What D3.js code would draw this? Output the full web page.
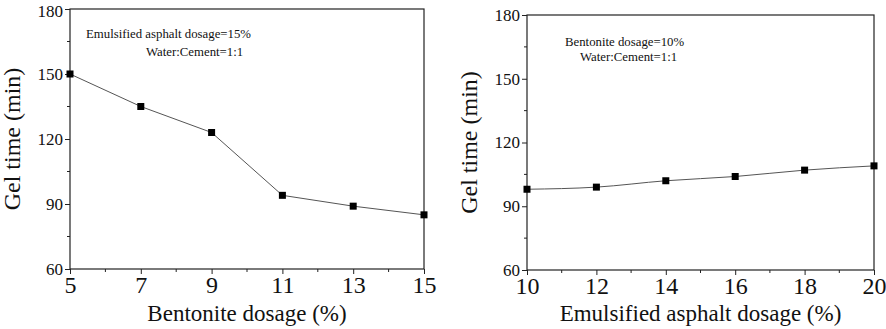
<!DOCTYPE html>
<html>
<head>
<meta charset="utf-8">
<script src="https://cdn.jsdelivr.net/npm/d3@7"></script>
<style>
  body { margin: 0; background: #fff; }
</style>
</head>
<body>
<svg id="main-vis"></svg>
<script>
// data
const bentoniteDosage = [5, 7, 9, 11, 13, 15];
const gelTimeBentonite = [150, 135, 123, 94, 89, 85];
const asphaltDosage = [10, 12, 14, 16, 18, 20];
const gelTimeAsphalt = [98, 99, 102, 104, 107, 109];
const yTicks = [60, 90, 120, 150, 180];
const notesLeft = ["Emulsified asphalt dosage=15%", "Water:Cement=1:1"];
const notesRight = ["Bentonite dosage=10%", "Water:Cement=1:1"];

const FONT = "'Liberation Serif', 'Times New Roman', serif";
const width = 886, height = 329;
const svg = d3.select("#main-vis").attr("width", width).attr("height", height);

const panels = [
  { x: bentoniteDosage, y: gelTimeBentonite, xTitle: "Bentonite dosage (%)",
    left: 70, right: 424, top: 9, bottom: 269, titleX: 20, notes: notesLeft,
    noteX: [86, 146], noteY: [38, 56], curve: d3.curveLinear },
  { x: asphaltDosage, y: gelTimeAsphalt, xTitle: "Emulsified asphalt dosage (%)",
    left: 527, right: 874, top: 15, bottom: 270, titleX: 477, notes: notesRight,
    noteX: [565, 580], noteY: [46, 61], curve: d3.curveMonotoneX }
];

panels.forEach(p => {
  const x = d3.scaleLinear().domain(d3.extent(p.x)).range([p.left, p.right]);
  const y = d3.scaleLinear().domain([60, 180]).range([p.bottom, p.top]);
  const g = svg.append("g");

  // frame
  g.append("rect")
    .attr("x", p.left).attr("y", p.top)
    .attr("width", p.right - p.left).attr("height", p.bottom - p.top)
    .attr("fill", "none").attr("stroke", "#222").attr("stroke-width", 1.2);

  // minor ticks
  const step = p.x[1] - p.x[0];
  const xMinor = d3.range(p.x[0] + step / 2, p.x[p.x.length - 1], step);
  const yMinor = d3.range(75, 180, 30);
  g.selectAll(".xminor").data(xMinor).enter().append("line")
    .attr("x1", d => x(d)).attr("x2", d => x(d))
    .attr("y1", p.bottom).attr("y2", p.bottom + 3)
    .attr("stroke", "#222");
  g.selectAll(".yminor").data(yMinor).enter().append("line")
    .attr("y1", d => y(d)).attr("y2", d => y(d))
    .attr("x1", p.left).attr("x2", p.left - 3)
    .attr("stroke", "#222");

  const xAxis = g.append("g")
    .attr("transform", `translate(0,${p.bottom})`)
    .call(d3.axisBottom(x).tickValues(p.x).tickSize(5).tickPadding(2).tickFormat(d3.format("d")));
  xAxis.select(".domain").remove();
  xAxis.selectAll("line").attr("stroke", "#222");
  xAxis.selectAll("text").attr("font-size", 24).style("font-family", FONT).style("fill", "#111");

  const yAxis = g.append("g")
    .attr("transform", `translate(${p.left},0)`)
    .call(d3.axisLeft(y).tickValues(yTicks).tickSize(5).tickPadding(2));
  yAxis.select(".domain").remove();
  yAxis.selectAll("line").attr("stroke", "#222");
  yAxis.selectAll("text").attr("font-size", 17).style("font-family", FONT).style("fill", "#111")
    .attr("dy", d => d === 180 && p.top < 12 ? "0.42em" : "0.32em");

  // axis titles
  g.append("text")
    .attr("x", (p.left + p.right) / 2).attr("y", 321)
    .attr("text-anchor", "middle").attr("font-size", 23)
    .style("font-family", FONT).style("fill", "#111")
    .text(p.xTitle);
  g.append("text")
    .attr("transform", `translate(${p.titleX},${(p.top + p.bottom) / 2}) rotate(-90)`)
    .attr("text-anchor", "middle").attr("font-size", 24)
    .style("font-family", FONT).style("fill", "#111")
    .text("Gel time (min)");

  // notes
  p.notes.forEach((t, i) => {
    g.append("text")
      .attr("x", p.noteX[i]).attr("y", p.noteY[i])
      .attr("font-size", 12.8)
      .style("font-family", FONT).style("fill", "#111")
      .text(t);
  });

  const pts = p.x.map((d, i) => [d, p.y[i]]);
  const line = d3.line().x(d => x(d[0])).y(d => y(d[1])).curve(p.curve);
  g.append("path")
    .datum(pts)
    .attr("d", line)
    .attr("fill", "none")
    .attr("stroke", "#555")
    .attr("stroke-width", 1);

  g.selectAll(".pt").data(pts).enter().append("rect")
    .attr("x", d => x(d[0]) - 3.5).attr("y", d => y(d[1]) - 3.5)
    .attr("width", 7).attr("height", 7)
    .attr("fill", "#000");
});
</script>
</body>
</html>
